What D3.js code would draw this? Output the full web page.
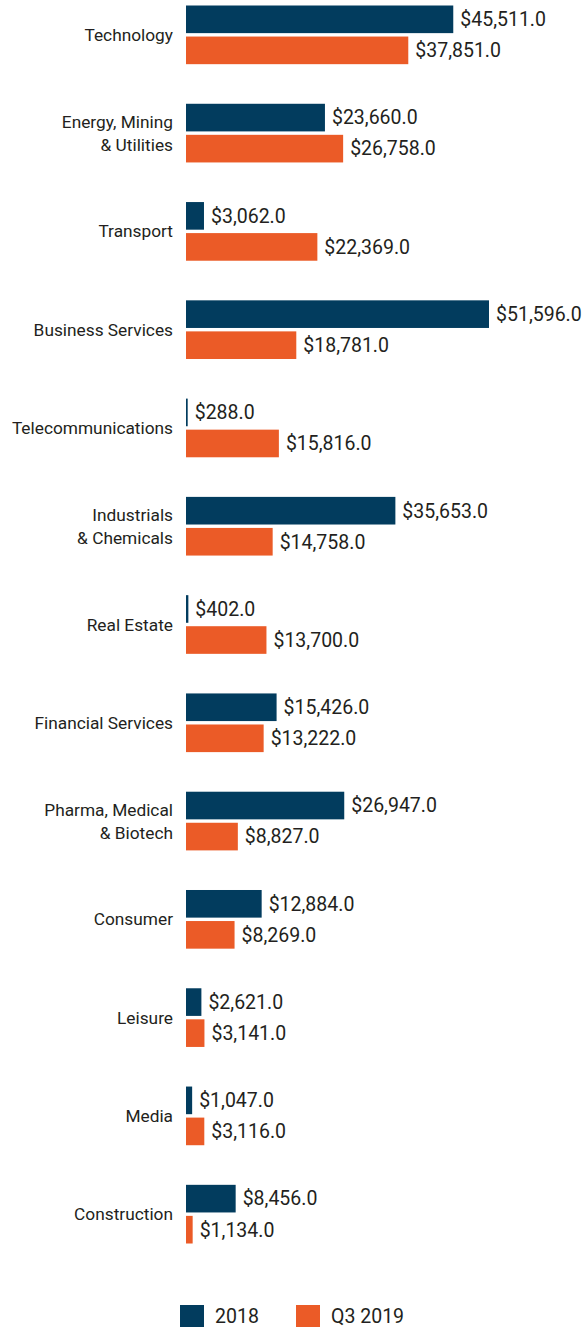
<!DOCTYPE html>
<html>
<head>
<meta charset="utf-8">
<script src="https://cdn.jsdelivr.net/npm/d3@7"></script>
<style>
  html, body { margin: 0; padding: 0; background: #fff; }
  svg { display: block; }
</style>
</head>
<body>
<div id="chart"></div>
<script>
// Data
let categories = [
  ["Technology"],
  ["Energy, Mining", "& Utilities"],
  ["Transport"],
  ["Business Services"],
  ["Telecommunications"],
  ["Industrials", "& Chemicals"],
  ["Real Estate"],
  ["Financial Services"],
  ["Pharma, Medical", "& Biotech"],
  ["Consumer"],
  ["Leisure"],
  ["Media"],
  ["Construction"]
];
let seriesNames = ["2018", "Q3 2019"];
let values2018 = [45511, 23660, 3062, 51596, 288, 35653, 402, 15426, 26947, 12884, 2621, 1047, 8456];
let valuesQ3 = [37851, 26758, 22369, 18781, 15816, 14758, 13700, 13222, 8827, 8269, 3141, 3116, 1134];

// Setup
let width = 587;
let height = 1329;
let palette = ["#023c5e", "#eb5b27"];
let font = "Roboto, 'Liberation Sans', sans-serif";
let textColor = "#231f20";

let keys = categories.map(d => d.join(" "));
let data = keys.map((k, i) => ({ key: k, lines: categories[i], vals: [values2018[i], valuesQ3[i]] }));

let y = d3.scaleBand()
  .domain(keys)
  .range([5.5, 1243.5])
  .paddingInner(0.403)
  .paddingOuter(0);

let ySub = d3.scaleBand()
  .domain(seriesNames)
  .range([0, y.bandwidth()])
  .paddingInner(0.11);

let x = d3.scaleLinear()
  .domain([0, 51596])
  .range([186, 489]);

let color = d3.scaleOrdinal().domain(seriesNames).range(palette);
let fmt = d3.format("$,.1f");

// Chart
const svg = d3.select("#chart").append("svg")
  .attr("width", width)
  .attr("height", height)
  .attr("font-family", font);

const groups = svg.append("g")
  .selectAll("g")
  .data(data)
  .join("g")
  .attr("transform", d => `translate(0,${y(d.key)})`);

groups.selectAll("rect")
  .data(d => d.vals.map((v, j) => ({ name: seriesNames[j], value: v })))
  .join("rect")
  .attr("x", x(0))
  .attr("y", d => ySub(d.name))
  .attr("width", d => x(d.value) - x(0))
  .attr("height", ySub.bandwidth())
  .attr("fill", d => color(d.name));

groups.selectAll("text.value")
  .data(d => d.vals.map((v, j) => ({ name: seriesNames[j], value: v })))
  .join("text")
  .attr("class", "value")
  .attr("x", d => x(d.value) + 7)
  .attr("y", d => ySub(d.name) + ySub.bandwidth() / 2)
  .attr("dy", "0.35em")
  .attr("font-size", 19.5)
  .attr("fill", textColor)
  .text(d => fmt(d.value));

// category labels
groups.append("text")
  .attr("x", 173)
  .attr("text-anchor", "end")
  .attr("font-size", 17.3)
  .attr("fill", textColor)
  .selectAll("tspan")
  .data(d => d.lines.map((l, i) => ({ l, i, n: d.lines.length })))
  .join("tspan")
  .attr("x", 173)
  .attr("y", d => y.bandwidth() / 2 + (d.i - (d.n - 1) / 2) * 23)
  .attr("dy", "0.35em")
  .text(d => d.l);

// Legend
const legend = svg.append("g")
  .selectAll("g")
  .data(seriesNames)
  .join("g")
  .attr("transform", (d, i) => `translate(${180 + i * 116},1305)`);

legend.append("rect")
  .attr("width", 24)
  .attr("height", 22)
  .attr("fill", d => color(d));

legend.append("text")
  .attr("x", 35)
  .attr("y", 11)
  .attr("dy", "0.36em")
  .attr("font-size", 19.5)
  .attr("fill", textColor)
  .text(d => d);
</script>
</body>
</html>
